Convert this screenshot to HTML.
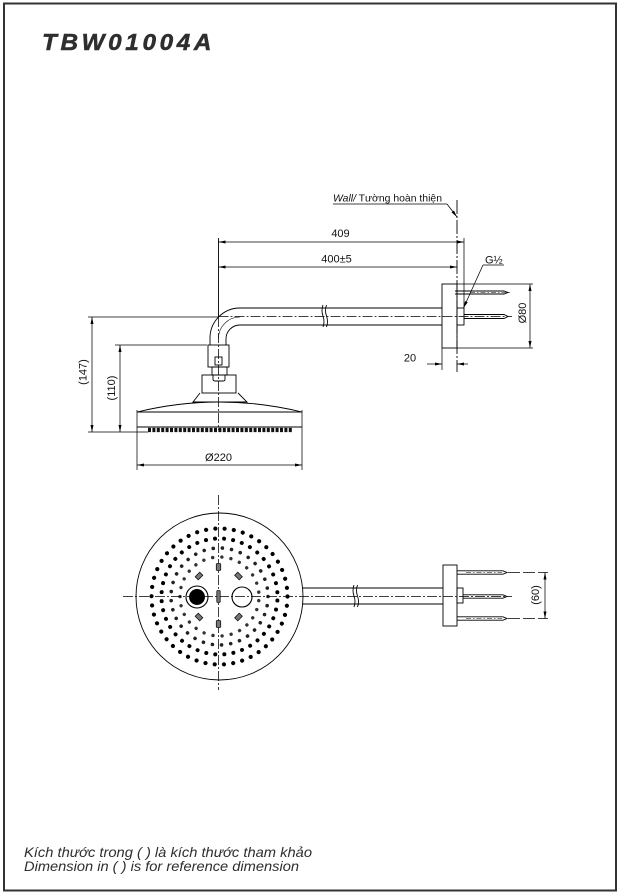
<!DOCTYPE html>
<html><head><meta charset="utf-8"><style>
html,body{margin:0;padding:0;background:#fff;}
svg{display:block;}
text{font-family:"Liberation Sans",Arial,sans-serif;fill:#111;}
</style></head><body>
<svg width="619" height="894" viewBox="0 0 619 894" xmlns="http://www.w3.org/2000/svg">
<defs>
<marker id="ar" viewBox="0 0 7 4" refX="7" refY="2" markerWidth="7" markerHeight="4" markerUnits="userSpaceOnUse" orient="auto-start-reverse"><path d="M0,0.5 L7,2 L0,3.5 z" fill="#000"/></marker>
</defs>
<rect x="4" y="3.5" width="612" height="887" fill="none" stroke="#333" stroke-width="2"/>

<text x="42" y="50" font-size="23.5" font-weight="bold" font-style="italic" style="fill:#2e2e2e;stroke:#2e2e2e;stroke-width:0.5" textLength="173" lengthAdjust="spacingAndGlyphs" letter-spacing="3.5">TBW01004A</text>

<!-- ===== SIDE VIEW ===== -->
<g fill="none" stroke="#000" stroke-width="0.9">
  <path d="M218.5,238 V317"/>
  <path d="M218.5,317 V430" stroke-dasharray="10 2 2 2" stroke-width="0.75"/>
  <line x1="218.5" y1="242" x2="464" y2="242" stroke-width="0.75" marker-start="url(#ar)" marker-end="url(#ar)"/>
  <path d="M464,238 V308" stroke-width="0.75"/>
  <line x1="218.5" y1="267" x2="457" y2="267" stroke-width="0.75" marker-start="url(#ar)" marker-end="url(#ar)"/>
  <path d="M457,200 V372" stroke-dasharray="14 2 2 2" stroke-width="0.9"/>
  <path d="M333,204 H447" stroke-width="0.75"/>
  <line x1="447" y1="204" x2="457" y2="217" stroke-width="0.75" marker-end="url(#ar)"/>
  <path d="M504,265 H483" stroke-width="0.75"/>
  <line x1="483" y1="265" x2="463.5" y2="308" stroke-width="0.75" marker-end="url(#ar)"/>
  <rect x="442" y="284" width="15" height="64"/>
  <path d="M457,284 H533 M457,348 H533" stroke-width="0.75"/>
  <line x1="530" y1="284" x2="530" y2="348" stroke-width="0.75" marker-start="url(#ar)" marker-end="url(#ar)"/>
  <path d="M442,348 V370" stroke-width="0.75"/>
  <line x1="427" y1="364" x2="442" y2="364" stroke-width="0.75" marker-end="url(#ar)"/>
  <line x1="468" y1="364" x2="457" y2="364" stroke-width="0.75" marker-end="url(#ar)"/>
  <rect x="457" y="308" width="7" height="17"/>
  <path d="M455,291 H504 L508,292.5 L504,294 H455"/>
  <path d="M464,314.5 H504 L508,316.5 L504,318.5 H464"/>
  <path d="M470,292.5 H510" stroke-dasharray="5 2 1.5 2" stroke-width="0.6"/>
  <path d="M240,308 H442 M240,325 H442"/>
  <path d="M218.5,316.5 H512" stroke-dasharray="10 2 2 2" stroke-width="0.75"/>
  <path d="M323,305 q-2,5.5 0,11 q2,5.5 0,11 M326.5,305 q-2,5.5 0,11 q2,5.5 0,11"/>
  <path d="M240,308 A30,30 0 0 0 210,338 V345"/>
  <path d="M240,325 A14,14 0 0 0 226,339 V345"/>
  <path d="M240,317 A21.5,21.5 0 0 0 218.5,338.5" stroke-width="0.6"/>
  <path d="M88,317 H218.5" stroke-width="0.75"/>
  <line x1="92" y1="317" x2="92" y2="432" stroke-width="0.75" marker-start="url(#ar)" marker-end="url(#ar)"/>
  <path d="M115,345 H207" stroke-width="0.75"/>
  <line x1="120" y1="345" x2="120" y2="432" stroke-width="0.75" marker-start="url(#ar)" marker-end="url(#ar)"/>
  <path d="M88,432 H148" stroke-width="0.75"/>
  <rect x="208" y="345" width="21" height="22"/>
  <rect x="215" y="357" width="7" height="8"/>
  <rect x="212" y="367" width="15" height="8"/>
  <rect x="202" y="375" width="34" height="18"/>
  <path d="M213,375 V379 Q213,381 215,381 H223 Q225,381 225,379 V375"/>
  <path d="M200,393 L193,402 H247 L238,393"/>
  <path d="M137,412 Q219.5,392 302,412"/>
  <path d="M137,412 H302 M137,427 H302"/>
  <path d="M137,410 V470 M302,410 V470" stroke-width="0.75"/>
  <path d="M148,430 H292" stroke="#111" stroke-width="4.2" stroke-dasharray="3 1.4"/>
  <line x1="137" y1="465" x2="302" y2="465" stroke-width="0.75" marker-start="url(#ar)" marker-end="url(#ar)"/>
</g>

<text x="340.5" y="237" font-size="11" text-anchor="middle">409</text>
<text x="336.5" y="262.5" font-size="11" text-anchor="middle">400±5</text>
<text x="410" y="361.5" font-size="11" text-anchor="middle">20</text>
<text x="485" y="263.5" font-size="11">G½</text>
<text x="218.5" y="461" font-size="11" text-anchor="middle">Ø220</text>
<text x="333" y="201.5" font-size="10.5" textLength="109" lengthAdjust="spacingAndGlyphs"><tspan font-style="italic">Wall/</tspan> Tường hoàn thiện</text>
<text transform="translate(86.5,372) rotate(-90)" font-size="11" text-anchor="middle">(147)</text>
<text transform="translate(115,388) rotate(-90)" font-size="11" text-anchor="middle">(110)</text>
<text transform="translate(526,313) rotate(-90)" font-size="11" text-anchor="middle">Ø80</text>

<!-- ===== TOP VIEW ===== -->
<g fill="none" stroke="#000" stroke-width="0.9">
  <circle cx="219.5" cy="596.5" r="83.5"/>
  <circle cx="219.5" cy="596.5" r="68" stroke="#000" stroke-width="4.2" stroke-linecap="round" stroke-dasharray="0.01 9.288"/>
  <circle cx="219.5" cy="596.5" r="58" stroke="#000" stroke-width="4" stroke-linecap="round" stroke-dasharray="0.01 9.11" transform="rotate(4 219.5 596.5)"/>
  <circle cx="219.5" cy="596.5" r="48.5" stroke="#222" stroke-width="3.6" stroke-linecap="round" stroke-dasharray="0.01 9.234"/>
  <circle cx="219.5" cy="596.5" r="39.5" stroke="#333" stroke-width="3.4" stroke-linecap="round" stroke-dasharray="0.01 9.192" transform="rotate(6 219.5 596.5)"/>
  <path d="M218.5,495 V690" stroke-dasharray="10 2 2 2" stroke-width="0.75"/>
  <path d="M123,596.5 H512" stroke-dasharray="10 2 2 2" stroke-width="0.75"/>
  <circle cx="197" cy="597" r="11" stroke-width="1.1"/>
  <circle cx="197" cy="597" r="7.5" fill="#000"/>
  <circle cx="242" cy="597" r="10" stroke-width="1.1"/>
  <g fill="#777" stroke="#111" stroke-width="0.8">
    <rect x="-2.2" y="-3.2" width="4.4" height="6.4" transform="translate(199,576) rotate(45)"/>
    <rect x="-2.2" y="-3.2" width="4.4" height="6.4" transform="translate(238.5,576) rotate(-45)"/>
    <rect x="-2.2" y="-3.2" width="4.4" height="6.4" transform="translate(199,617) rotate(-45)"/>
    <rect x="-2.2" y="-3.2" width="4.4" height="6.4" transform="translate(238.5,617) rotate(45)"/>
    <rect x="216.3" y="563.5" width="4.4" height="7" rx="1"/>
    <rect x="216.3" y="620.5" width="4.4" height="7" rx="1"/>
    <rect x="216.8" y="590.5" width="3.4" height="12" rx="1"/>
  </g>
  <path d="M302,588 H443 M302,604 H443"/>
  <path d="M354,585 q-2,5.5 0,11 q2,5.5 0,11 M357.5,585 q-2,5.5 0,11 q2,5.5 0,11"/>
  <rect x="443" y="565" width="14" height="61"/>
  <rect x="457" y="588" width="6" height="15"/>
  <path d="M457,570.8 H503 L507,572.5 L503,574.2 H457"/>
  <path d="M463,594.8 H503 L507,596.5 L503,598.2 H463"/>
  <path d="M457,616.8 H503 L507,618.5 L503,620.2 H457"/>
  <path d="M466,572.5 H502 M466,618.5 H502" stroke-dasharray="5 2 1.5 2" stroke-width="0.6"/>
  <path d="M508,572.5 H548 M508,618.5 H548" stroke-dasharray="12 3" stroke-width="0.75"/>
  <line x1="545" y1="572.5" x2="545" y2="618.5" stroke-width="0.75" marker-start="url(#ar)" marker-end="url(#ar)"/>
</g>
<text transform="translate(539,595) rotate(-90)" font-size="11" text-anchor="middle">(60)</text>

<text x="24" y="857" font-size="14" font-style="italic" style="fill:#2e2e2e" textLength="288" lengthAdjust="spacingAndGlyphs">Kích thước trong ( ) là kích thước tham khảo</text>
<text x="24" y="871" font-size="14" font-style="italic" style="fill:#2e2e2e" textLength="275" lengthAdjust="spacingAndGlyphs">Dimension in ( ) is for reference dimension</text>
</svg>
</body></html>
